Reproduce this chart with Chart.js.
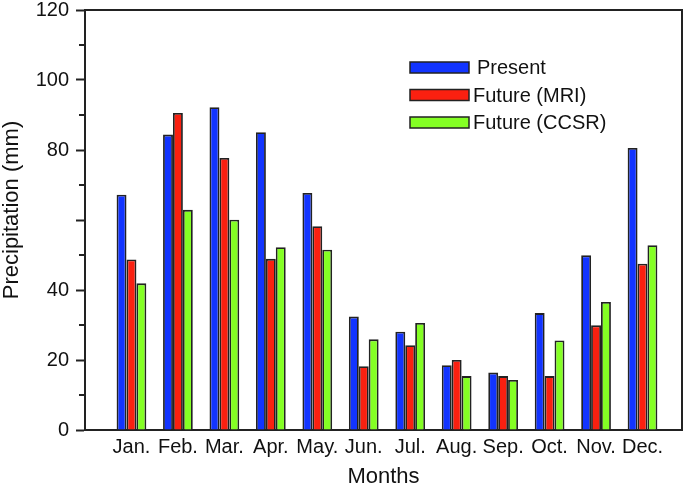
<!DOCTYPE html>
<html>
<head>
<meta charset="utf-8">
<script src="https://cdn.jsdelivr.net/npm/chart.js@4.4.0/dist/chart.umd.min.js"></script>
<style>
  html, body { margin: 0; padding: 0; background: #fff; }
  #wrap { width: 685px; height: 492px; }
</style>
</head>
<body>
<div id="wrap"><canvas id="myChart" width="685" height="492"></canvas></div>
<script>
var months = ["Jan.", "Feb.", "Mar.", "Apr.", "May.", "Jun.", "Jul.", "Aug.", "Sep.", "Oct.", "Nov.", "Dec."];
var present = [67.2, 84.4, 92.2, 85.1, 67.7, 32.4, 28.1, 18.5, 16.4, 33.4, 49.9, 80.6];
var futureMRI = [48.7, 90.6, 77.7, 48.9, 58.2, 18.2, 24.2, 20.0, 15.4, 15.4, 29.9, 47.5];
var futureCCSR = [41.9, 62.9, 60.1, 52.2, 51.5, 25.9, 30.6, 15.4, 14.3, 25.6, 36.6, 52.8];
var seriesNames = ["Present", "Future (MRI)", "Future (CCSR)"];
var yTickLabels = [0, 20, 40, 80, 100, 120];

var FONT = "'Liberation Sans', Arial, sans-serif";
var EDGE = "#222";

function toPoints(arr) {
  return arr.map(function (v, i) { return { x: i + 1, y: v }; });
}

function makeSet(name, values, color) {
  return {
    label: name,
    data: toPoints(values),
    backgroundColor: color,
    borderColor: EDGE,
    borderWidth: 1.8,
    borderSkipped: "start",
    categoryPercentage: 0.64,
    barPercentage: 1.0
  };
}

// top and right sides of the box, plus short minor ticks on y
var framePlugin = {
  id: "frame",
  afterDraw: function (chart) {
    var a = chart.chartArea, ctx = chart.ctx, ys = chart.scales.y;
    ctx.save();
    ctx.strokeStyle = EDGE;
    ctx.lineWidth = 2;
    ctx.beginPath();
    ctx.moveTo(a.left, a.top);
    ctx.lineTo(a.right, a.top);
    ctx.lineTo(a.right, a.bottom);
    ctx.stroke();
    ctx.beginPath();
    ys.ticks.forEach(function (t) {
      if (t.value % 20 !== 0) {
        var py = Math.round(ys.getPixelForValue(t.value));
        ctx.moveTo(a.left - 6, py);
        ctx.lineTo(a.left, py);
      }
    });
    ctx.stroke();
    ctx.restore();
  }
};

// legend inside the plot, upper right
var boxLegend = {
  id: "boxLegend",
  afterDraw: function (chart) {
    var ctx = chart.ctx;
    ctx.save();
    chart.data.datasets.forEach(function (ds, i) {
      var x = 410, y = 62 + i * 27.5;
      ctx.fillStyle = ds.backgroundColor;
      ctx.fillRect(x, y, 59, 11);
      ctx.strokeStyle = EDGE;
      ctx.lineWidth = 1.5;
      ctx.strokeRect(x, y, 59, 11);
      ctx.fillStyle = "#111";
      ctx.font = "20px " + FONT;
      ctx.textBaseline = "middle";
      ctx.textAlign = "left";
      ctx.fillText(ds.label, i === 0 ? 477 : 473, y + 6.5);
    });
    ctx.restore();
  }
};

var yTitle = {
  id: "yTitle",
  afterDraw: function (chart) {
    var ctx = chart.ctx;
    ctx.save();
    ctx.translate(12, 210);
    ctx.rotate(-Math.PI / 2);
    ctx.fillStyle = "#111";
    ctx.font = "22px " + FONT;
    ctx.textAlign = "center";
    ctx.textBaseline = "middle";
    ctx.fillText("Precipitation (mm)", 0, 0);
    ctx.restore();
  }
};

const ctx = document.getElementById("myChart");
new Chart(ctx, {
  type: "bar",
  data: {
    datasets: [
      makeSet(seriesNames[0], present, "#1234ff"),
      makeSet(seriesNames[1], futureMRI, "#fa2010"),
      makeSet(seriesNames[2], futureCCSR, "#84ff24")
    ]
  },
  plugins: [framePlugin, boxLegend, yTitle],
  options: {
    responsive: false,
    animation: false,
    devicePixelRatio: 1,
    layout: { padding: { top: 10, right: 3, left: 0, bottom: 0 } },
    plugins: {
      legend: { display: false },
      tooltip: { enabled: false }
    },
    scales: {
      x: {
        type: "linear",
        min: 0,
        max: 12.85,
        offset: false,
        grid: { display: false, drawTicks: false },
        border: { display: true, color: EDGE, width: 2 },
        ticks: {
          stepSize: 1,
          includeBounds: false,
          autoSkip: false,
          maxRotation: 0,
          padding: 5,
          color: "#111",
          font: { family: FONT, size: 20 },
          callback: function (v) {
            return (v >= 1 && v <= 12 && v === Math.round(v)) ? months[v - 1] : "";
          }
        },
        title: {
          display: true,
          text: "Months",
          color: "#111",
          font: { family: FONT, size: 22 },
          padding: { top: 0, bottom: 2 }
        },
        afterFit: function (scale) { scale.height = 62; }
      },
      y: {
        min: 0,
        max: 120,
        grid: {
          drawOnChartArea: false,
          tickLength: 9,
          tickWidth: 2,
          tickColor: function (c) { return c.tick && c.tick.value % 20 === 0 ? EDGE : "rgba(0,0,0,0)"; }
        },
        border: { display: true, color: EDGE, width: 2 },
        ticks: {
          stepSize: 10,
          padding: 7,
          color: "#111",
          font: { family: FONT, size: 20 },
          callback: function (v) {
            return yTickLabels.indexOf(v) >= 0 ? String(v) : "";
          }
        },
        afterFit: function (scale) {
          scale.width = 85;
          scale.paddingTop = 0;
          scale.paddingBottom = 0;
        }
      }
    }
  }
});
</script>
</body>
</html>
